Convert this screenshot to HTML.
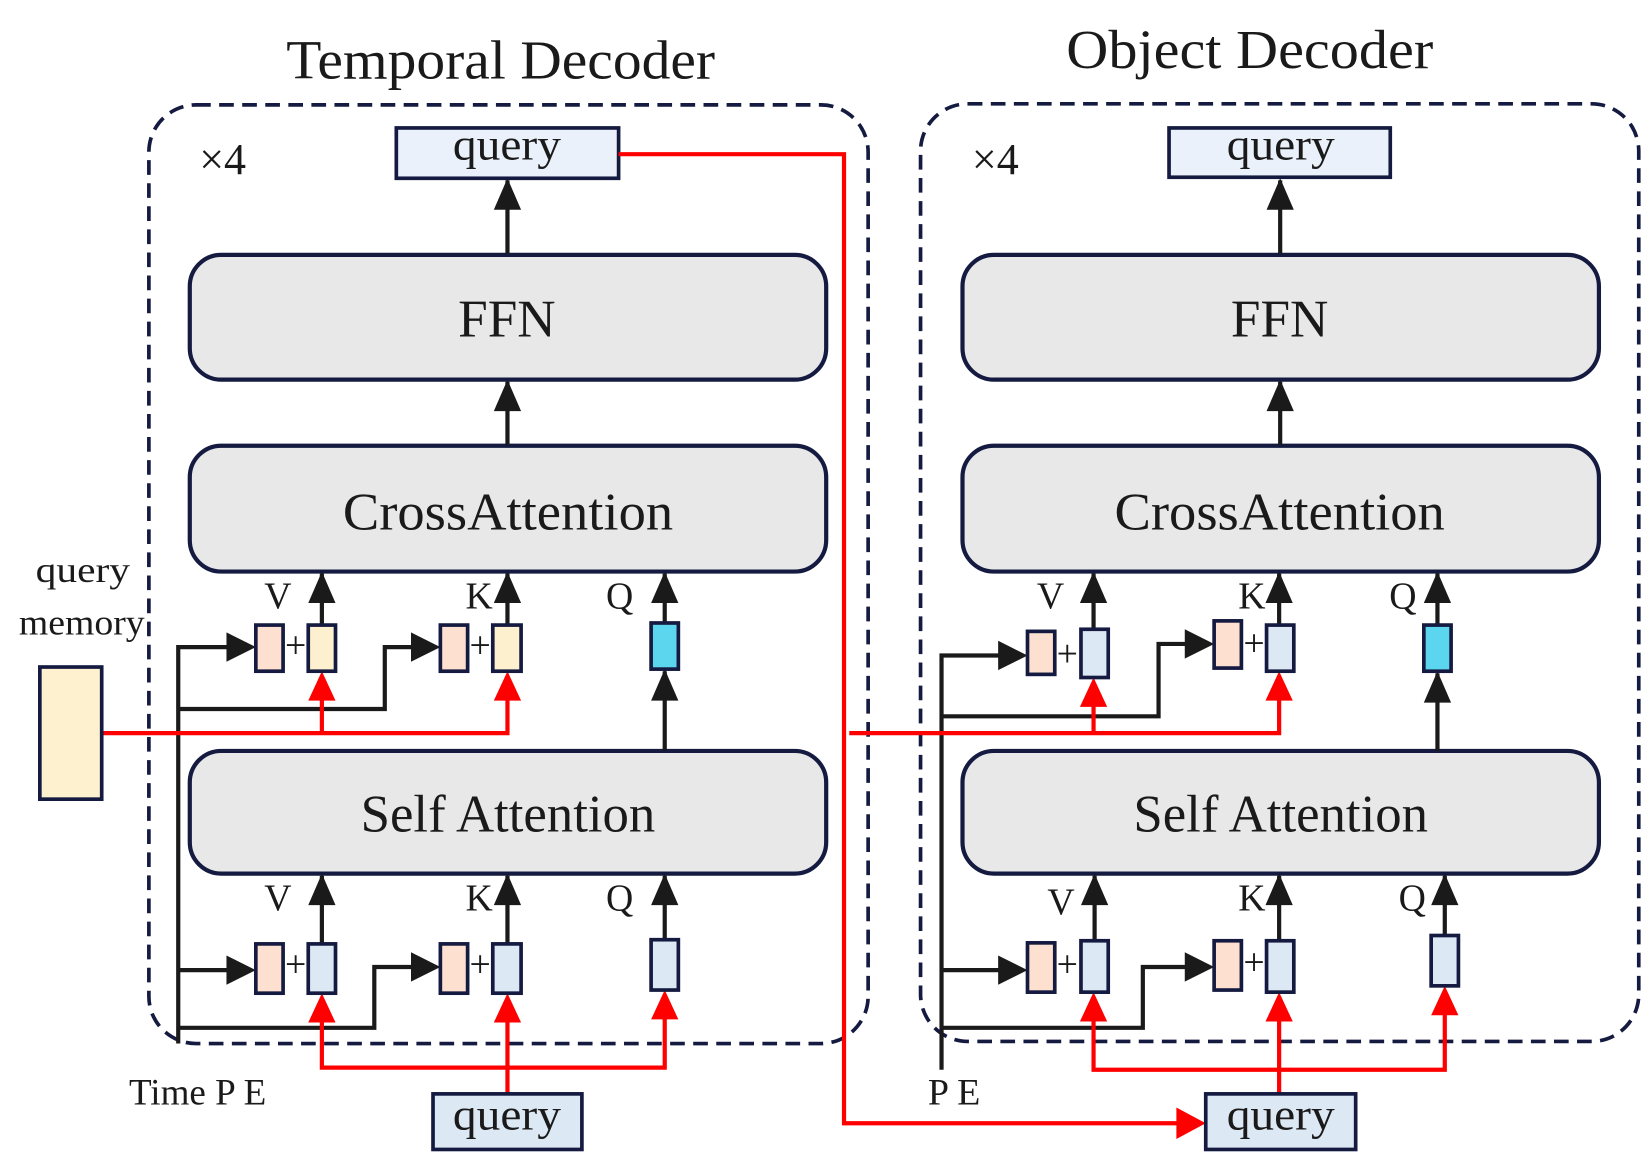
<!DOCTYPE html>
<html><head><meta charset="utf-8"><style>
html,body{margin:0;padding:0;background:#fff;}
svg{display:block;}
text{font-family:"Liberation Serif",serif;fill:#1a1a1a;}
</style></head><body>
<svg width="1644" height="1161" viewBox="0 0 1568 1107" preserveAspectRatio="none" xmlns="http://www.w3.org/2000/svg">
<style>
.blk{stroke:#1a1a1a;stroke-width:4;fill:none}
.red{stroke:#ff0000;stroke-width:4;fill:none}
.big{fill:#e8e8e8;stroke:#141a40;stroke-width:4}
.sm{stroke:#141a40;stroke-width:3.5}
.dash{fill:none;stroke:#141a40;stroke-width:3.5;stroke-dasharray:14 8}
</style>

<text x="273" y="75" font-size="52" textLength="409" lengthAdjust="spacingAndGlyphs">Temporal Decoder</text>
<text x="1017" y="65" font-size="52" textLength="350" lengthAdjust="spacingAndGlyphs">Object Decoder</text>

<rect class="dash" x="142" y="100" width="686" height="895" rx="45"/>
<rect class="dash" x="878" y="99" width="685" height="894" rx="45"/>
<text x="190" y="166" font-size="42">×4</text>
<text x="927" y="166" font-size="42">×4</text>

<!-- LEFT -->
<rect x="378" y="122" width="212" height="48" fill="#eaf1fb" class="sm"/>
<text x="432" y="152" font-size="42" textLength="103" lengthAdjust="spacingAndGlyphs">query</text>
<rect class="big" x="181" y="243" width="607" height="119" rx="30"/>
<text x="437" y="321" font-size="50" textLength="93" lengthAdjust="spacingAndGlyphs">FFN</text>
<rect class="big" x="181" y="425" width="607" height="120" rx="30"/>
<text x="327" y="505" font-size="50" textLength="315" lengthAdjust="spacingAndGlyphs">CrossAttention</text>
<rect class="big" x="181" y="716" width="607" height="117" rx="30"/>
<text x="344" y="793" font-size="50" textLength="281" lengthAdjust="spacingAndGlyphs">Self Attention</text>

<path d="M484 242 L484 172" stroke="#1a1a1a" stroke-width="4"/><path d="M484 170 l-13 30 h26z" fill="#1a1a1a"/>
<path d="M484 424 L484 364" stroke="#1a1a1a" stroke-width="4"/><path d="M484 362 l-13 30 h26z" fill="#1a1a1a"/>
<path d="M307 596 V547" stroke="#1a1a1a" stroke-width="4"/><path d="M307 545 l-13 30 h26z" fill="#1a1a1a"/>
<path d="M484 596 V547" stroke="#1a1a1a" stroke-width="4"/><path d="M484 545 l-13 30 h26z" fill="#1a1a1a"/>
<path d="M634 594 V547" stroke="#1a1a1a" stroke-width="4"/><path d="M634 545 l-13 30 h26z" fill="#1a1a1a"/>
<path d="M634 716 V640" stroke="#1a1a1a" stroke-width="4"/><path d="M634 638 l-13 30 h26z" fill="#1a1a1a"/>
<path d="M307 900 V835" stroke="#1a1a1a" stroke-width="4"/><path d="M307 833 l-13 30 h26z" fill="#1a1a1a"/>
<path d="M484 900 V835" stroke="#1a1a1a" stroke-width="4"/><path d="M484 833 l-13 30 h26z" fill="#1a1a1a"/>
<path d="M634 896 V835" stroke="#1a1a1a" stroke-width="4"/><path d="M634 833 l-13 30 h26z" fill="#1a1a1a"/>
<text x="265" y="580" font-size="36" text-anchor="middle">V</text>
<text x="457" y="580" font-size="36" text-anchor="middle">K</text>
<text x="591" y="580" font-size="36" text-anchor="middle">Q</text>
<text x="265" y="868" font-size="36" text-anchor="middle">V</text>
<text x="457" y="868" font-size="36" text-anchor="middle">K</text>
<text x="591" y="868" font-size="36" text-anchor="middle">Q</text>

<path class="blk" d="M170 995 V617 H222"/><path d="M244 617 l-28 -14 v28z" fill="#1a1a1a"/>
<path class="blk" d="M170 676 H367 V617 H398"/><path d="M420 617 l-28 -14 v28z" fill="#1a1a1a"/>
<path class="blk" d="M170 925 H222"/><path d="M244 925 l-28 -14 v28z" fill="#1a1a1a"/>
<path class="blk" d="M170 980 H357 V922 H398"/><path d="M420 922 l-28 -14 v28z" fill="#1a1a1a"/>

<path class="red" d="M97 699 H484 V660"/><path class="red" d="M307 699 V660"/>
<path d="M307 640 l-13 28 h26z" fill="#f00"/><path d="M484 640 l-13 28 h26z" fill="#f00"/>
<path class="red" d="M484 1043 V967"/><path class="red" d="M307 967 V1018 H634 V967"/>
<path d="M307 947 l-13 28 h26z" fill="#f00"/><path d="M484 947 l-13 28 h26z" fill="#f00"/><path d="M634 944 l-13 28 h26z" fill="#f00"/>

<rect x="244" y="596" width="26" height="44" fill="#fde0cf" class="sm"/>
<rect x="294" y="596" width="26" height="44" fill="#fdf0cf" class="sm"/>
<rect x="420" y="596" width="26" height="44" fill="#fde0cf" class="sm"/>
<rect x="470" y="596" width="27" height="44" fill="#fdf0cf" class="sm"/>
<rect x="621" y="594" width="26" height="44" fill="#5bd6ee" class="sm"/>
<rect x="244" y="900" width="26" height="47" fill="#fde0cf" class="sm"/>
<rect x="294" y="900" width="26" height="47" fill="#dde8f5" class="sm"/>
<rect x="420" y="900" width="26" height="47" fill="#fde0cf" class="sm"/>
<rect x="470" y="900" width="27" height="47" fill="#dde8f5" class="sm"/>
<rect x="621" y="896" width="26" height="48" fill="#dde8f5" class="sm"/>
<text x="282" y="627" font-size="36" text-anchor="middle">+</text>
<text x="458" y="627" font-size="36" text-anchor="middle">+</text>
<text x="282" y="931" font-size="36" text-anchor="middle">+</text>
<text x="458" y="931" font-size="36" text-anchor="middle">+</text>

<rect x="38" y="636" width="59" height="126" fill="#fef1cf" class="sm"/>
<text x="34" y="555" font-size="34" textLength="90" lengthAdjust="spacingAndGlyphs">query</text>
<text x="18" y="605" font-size="34" textLength="120" lengthAdjust="spacingAndGlyphs">memory</text>
<text x="123" y="1053" font-size="35" textLength="131" lengthAdjust="spacingAndGlyphs">Time P E</text>

<rect x="413" y="1043" width="142" height="53" fill="#dde8f5" class="sm"/>
<text x="432" y="1077" font-size="42" textLength="103" lengthAdjust="spacingAndGlyphs">query</text>

<!-- RIGHT -->
<rect x="1115" y="122" width="211" height="47" fill="#eaf1fb" class="sm"/>
<text x="1170" y="152" font-size="42" textLength="103" lengthAdjust="spacingAndGlyphs">query</text>
<rect class="big" x="918" y="243" width="607" height="119" rx="30"/>
<text x="1174" y="321" font-size="50" textLength="93" lengthAdjust="spacingAndGlyphs">FFN</text>
<rect class="big" x="918" y="425" width="607" height="120" rx="30"/>
<text x="1063" y="505" font-size="50" textLength="315" lengthAdjust="spacingAndGlyphs">CrossAttention</text>
<rect class="big" x="918" y="716" width="607" height="117" rx="30"/>
<text x="1081" y="793" font-size="50" textLength="281" lengthAdjust="spacingAndGlyphs">Self Attention</text>

<path d="M1221 242 V172" stroke="#1a1a1a" stroke-width="4"/><path d="M1221 170 l-13 30 h26z" fill="#1a1a1a"/>
<path d="M1221 424 V364" stroke="#1a1a1a" stroke-width="4"/><path d="M1221 362 l-13 30 h26z" fill="#1a1a1a"/>
<path d="M1043 600 V547" stroke="#1a1a1a" stroke-width="4"/><path d="M1043 545 l-13 30 h26z" fill="#1a1a1a"/>
<path d="M1220 596 V547" stroke="#1a1a1a" stroke-width="4"/><path d="M1220 545 l-13 30 h26z" fill="#1a1a1a"/>
<path d="M1371 596 V547" stroke="#1a1a1a" stroke-width="4"/><path d="M1371 545 l-13 30 h26z" fill="#1a1a1a"/>
<path d="M1371 716 V642" stroke="#1a1a1a" stroke-width="4"/><path d="M1371 640 l-13 30 h26z" fill="#1a1a1a"/>
<path d="M1044 897 V835" stroke="#1a1a1a" stroke-width="4"/><path d="M1044 833 l-13 30 h26z" fill="#1a1a1a"/>
<path d="M1220 897 V835" stroke="#1a1a1a" stroke-width="4"/><path d="M1220 833 l-13 30 h26z" fill="#1a1a1a"/>
<path d="M1378 892 V835" stroke="#1a1a1a" stroke-width="4"/><path d="M1378 833 l-13 30 h26z" fill="#1a1a1a"/>
<text x="1002" y="580" font-size="36" text-anchor="middle">V</text>
<text x="1194" y="580" font-size="36" text-anchor="middle">K</text>
<text x="1338" y="580" font-size="36" text-anchor="middle">Q</text>
<text x="1012" y="872" font-size="36" text-anchor="middle">V</text>
<text x="1194" y="868" font-size="36" text-anchor="middle">K</text>
<text x="1347" y="868" font-size="36" text-anchor="middle">Q</text>

<path class="blk" d="M898 1020 V625 H958"/><path d="M980 625 l-28 -14 v28z" fill="#1a1a1a"/>
<path class="blk" d="M898 683 H1105 V614 H1136"/><path d="M1158 614 l-28 -14 v28z" fill="#1a1a1a"/>
<path class="blk" d="M898 925 H958"/><path d="M980 925 l-28 -14 v28z" fill="#1a1a1a"/>
<path class="blk" d="M898 980 H1090 V922 H1136"/><path d="M1158 922 l-28 -14 v28z" fill="#1a1a1a"/>

<path class="red" d="M590 147 H805 V1071 H1130"/><path d="M1150 1071 l-28 -15 v30z" fill="#f00"/>
<path class="red" d="M810 699 H1220 V666"/><path class="red" d="M1043 699 V666"/>
<path d="M1043 646 l-13 28 h26z" fill="#f00"/><path d="M1220 640 l-13 28 h26z" fill="#f00"/>
<path class="red" d="M1220 1043 V966"/><path class="red" d="M1043 966 V1020 H1378 V960"/>
<path d="M1043 946 l-13 28 h26z" fill="#f00"/><path d="M1220 946 l-13 28 h26z" fill="#f00"/><path d="M1378 940 l-13 28 h26z" fill="#f00"/>

<rect x="980" y="602" width="26" height="41" fill="#fde0cf" class="sm"/>
<rect x="1031" y="600" width="26" height="46" fill="#dde8f5" class="sm"/>
<rect x="1158" y="592" width="26" height="45" fill="#fde0cf" class="sm"/>
<rect x="1208" y="596" width="26" height="44" fill="#dde8f5" class="sm"/>
<rect x="1358" y="596" width="26" height="44" fill="#5bd6ee" class="sm"/>
<rect x="980" y="899" width="26" height="47" fill="#fde0cf" class="sm"/>
<rect x="1031" y="897" width="26" height="49" fill="#dde8f5" class="sm"/>
<rect x="1158" y="897" width="26" height="47" fill="#fde0cf" class="sm"/>
<rect x="1208" y="897" width="26" height="49" fill="#dde8f5" class="sm"/>
<rect x="1365" y="892" width="26" height="48" fill="#dde8f5" class="sm"/>
<text x="1018" y="635" font-size="36" text-anchor="middle">+</text>
<text x="1196" y="625" font-size="36" text-anchor="middle">+</text>
<text x="1018" y="931" font-size="36" text-anchor="middle">+</text>
<text x="1196" y="929" font-size="36" text-anchor="middle">+</text>

<text x="885" y="1053" font-size="35" textLength="50" lengthAdjust="spacingAndGlyphs">P E</text>
<rect x="1150" y="1043" width="143" height="53" fill="#dde8f5" class="sm"/>
<text x="1170" y="1077" font-size="42" textLength="103" lengthAdjust="spacingAndGlyphs">query</text>
</svg>
</body></html>
